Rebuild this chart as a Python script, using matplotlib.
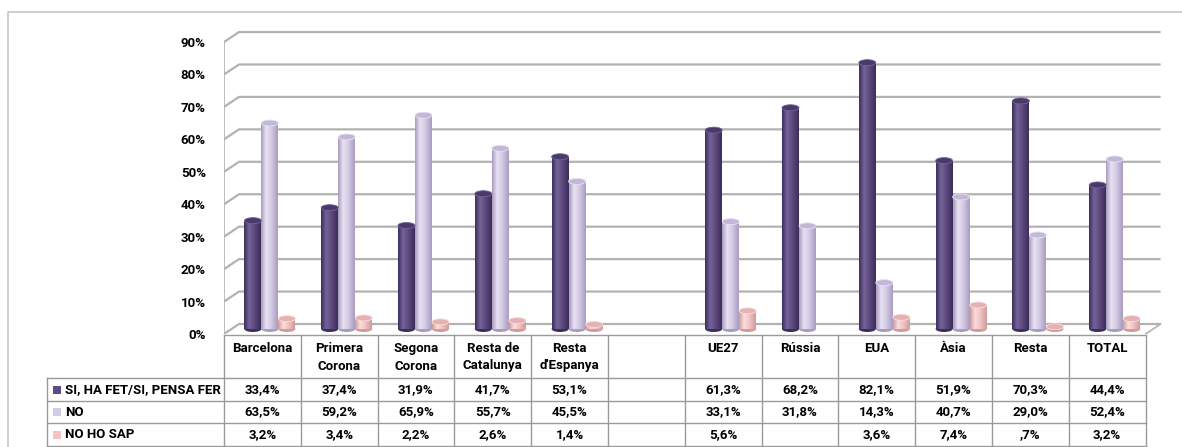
import numpy as np
import matplotlib.pyplot as plt
from matplotlib.patches import Ellipse
from matplotlib.colors import to_rgb

categories = ["Barcelona", "Primera\nCorona", "Segona\nCorona", "Resta de\nCatalunya",
              "Resta\nd'Espanya", "", "UE27", "Rússia", "EUA", "Àsia", "Resta", "TOTAL"]
series = ["SI, HA FET/SI, PENSA FER", "NO", "NO HO SAP"]
si_vals = [33.4, 37.4, 31.9, 41.7, 53.1, np.nan, 61.3, 68.2, 82.1, 51.9, 70.3, 44.4]
no_vals = [63.5, 59.2, 65.9, 55.7, 45.5, np.nan, 33.1, 31.8, 14.3, 40.7, 29.0, 52.4]
nhs_vals = [3.2, 3.4, 2.2, 2.6, 1.4, np.nan, 5.6, np.nan, 3.6, 7.4, 0.7, 3.2]
yticks = [0, 10, 20, 30, 40, 50, 60, 70, 80, 90]

# base, dark edge, highlight, cap
colors = [("#5e4b80", "#3d2e5a", "#74639a", "#4a3a6a"),
          ("#d4cbe5", "#a89cbf", "#e8e2f2", "#c2b7d8"),
          ("#f2c4c4", "#cf9b9b", "#fadddd", "#e6b1b1")]

W, H = 1182, 447
X0, COLW = 224, 76.8
Y0, PX = 334, 3.244          # front 0% line, pixels per percent
DX, DY = 15, 10              # depth offset of the back wall
TOP = 12

font = dict(family=["Roboto", "DejaVu Sans"], weight="bold")
FS = 9.5

fig = plt.figure(figsize=(W / 100, H / 100), dpi=100)

# overlay in pixel units for frame and table
ov = fig.add_axes([0, 0, 1, 1], zorder=0)
ov.set_xlim(0, W)
ov.set_ylim(H, 0)
ov.axis("off")
gray = "#c6c6c6"
ov.plot([8, 8, W], [H, TOP, TOP], color=gray, lw=1.2)

ncol = len(categories)
xr = X0 + ncol * COLW
rows = [335, 378, 401, 423, 446]
tcol = "#9a9a9a"
ov.plot([X0, xr], [rows[0], rows[0]], color=tcol, lw=1)
for y in rows[1:]:
    ov.plot([47, xr], [y, y], color=tcol, lw=1)
ov.plot([47, 47], [rows[1], rows[-1]], color=tcol, lw=1)
for i in range(ncol + 1):
    ov.plot([X0 + i * COLW] * 2, [rows[0], rows[-1]], color=tcol, lw=1)

for i, c in enumerate(categories):
    ov.text(X0 + (i + 0.5) * COLW, 342, c, ha="center", va="top", fontsize=FS,
            linespacing=1.45, **font)


def fmt(v):
    if np.isnan(v):
        return ""
    s = f"{v:.1f}".replace(".", ",")
    if s.startswith("0,"):
        s = s[1:]
    return s + "%"


for r, (name, vals, col) in enumerate(zip(series, [si_vals, no_vals, nhs_vals], colors)):
    yc = (rows[r + 1] + rows[r + 2]) / 2
    ov.add_patch(plt.Rectangle((53, yc - 4), 8, 8, color=col[0], lw=0))
    ov.text(65, yc, name, ha="left", va="center", fontsize=FS, **font)
    for i, v in enumerate(vals):
        ov.text(X0 + (i + 0.5) * COLW, yc, fmt(v), ha="center", va="center",
                fontsize=FS, **font)

# main 3D-ish chart
ax = fig.add_axes([X0 / W, (H - Y0) / H, (W - X0) / W, (Y0 - TOP) / H], zorder=1)
ax.patch.set_alpha(0)
xmax = (W - X0) / COLW
ymax = (Y0 - TOP) / PX
dxd, dyd = DX / COLW, DY / PX
gcol = "#b2b2b2"

for v in yticks:
    ax.plot([0, dxd, ncol + dxd], [v, v + dyd, v + dyd], color=gcol, lw=1.6,
            zorder=1, solid_capstyle="butt")
ax.plot([0, 0], [0, yticks[-1]], color=gcol, lw=1.2, zorder=1)
ax.plot([ncol, ncol + dxd], [0, dyd], color=gcol, lw=1.2, zorder=1)

ax.set_yticks(yticks)
ax.set_yticklabels([f"{v}%" for v in yticks], fontsize=FS, **font)
ax.tick_params(axis="y", length=0, pad=13)
ax.set_xticks([])
for s in ax.spines.values():
    s.set_visible(False)

bw = 17 / COLW
lift = DY / 2 / PX
eh = 6 / PX
xc = np.arange(ncol) + 0.5 + DX / 2 / COLW


def gradient(col):
    base, dark, light, _ = [np.array(to_rgb(c)) for c in col]
    t = np.linspace(0, 1, 60)
    stops = [(0, dark), (0.3, light), (0.6, base), (1, dark)]
    out = np.zeros((1, 60, 3))
    for ch in range(3):
        out[0, :, ch] = np.interp(t, [s[0] for s in stops], [s[1][ch] for s in stops])
    return out


for k, (vals, col) in enumerate(zip([si_vals, no_vals, nhs_vals], colors)):
    vals = np.array(vals)
    mask = ~np.isnan(vals)
    x = xc[mask] + (k - 1) * bw
    bars = ax.bar(x, vals[mask], bw, bottom=lift, color=col[0], lw=0, zorder=3)
    grad = gradient(col)
    for b in bars:
        x0, y0 = b.get_x(), b.get_y()
        x1, y1 = x0 + b.get_width(), y0 + b.get_height()
        xm = (x0 + x1) / 2
        ax.add_patch(Ellipse((xm, y0), bw, eh, facecolor=col[1], lw=0, zorder=2.9))
        im = ax.imshow(grad, extent=[x0, x1, y0, y1], aspect="auto",
                       interpolation="bilinear", zorder=3)
        im.set_clip_path(b)
        ax.add_patch(Ellipse((xm, y1), bw, eh, facecolor=col[3], edgecolor=col[2],
                             lw=0.6, zorder=3.2))

ax.set_xlim(0, xmax)
ax.set_ylim(0, ymax)

fig.savefig("out.png", dpi=100)
